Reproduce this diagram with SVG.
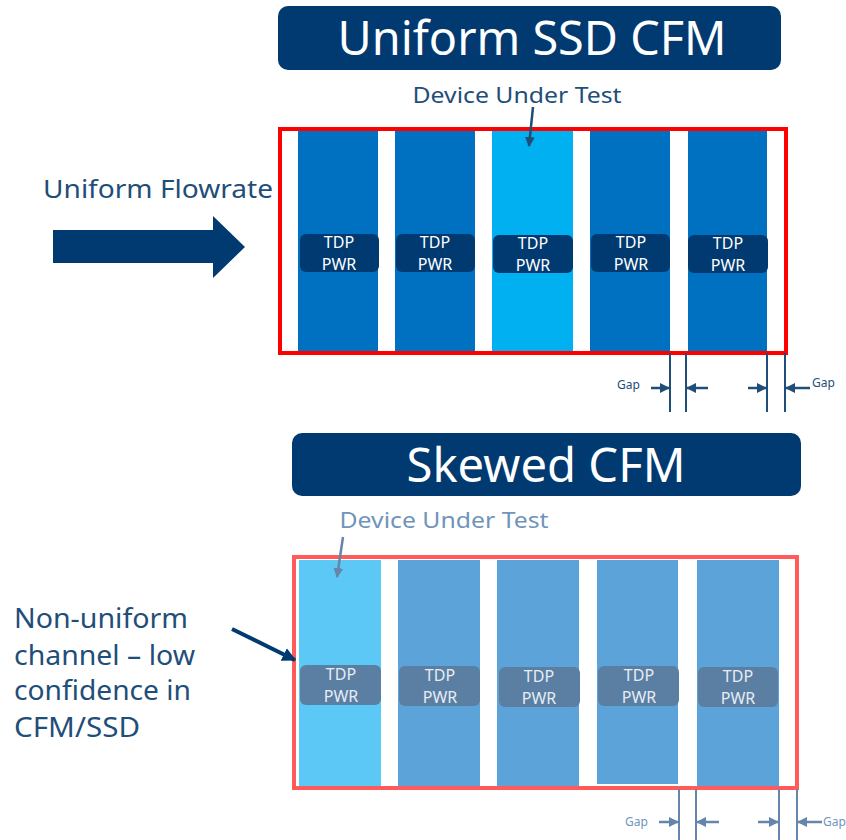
<svg xmlns="http://www.w3.org/2000/svg" width="846" height="840" viewBox="0 0 846 840">
<defs>
<style>
text{font-family:"Noto Sans","Open Sans","DejaVu Sans",sans-serif}
.title{fill:#fff;font-size:47px;text-anchor:middle}
.tbox{fill:#003A70}
.lbl{fill:#1F4E79}
.lbl2{fill:#7094BB}
.col1{fill:#0070C0}
.dut1{fill:#00B0F0}
.col2{fill:#5BA3D8}
.dut2{fill:#5BC8F5}
.tdp1{fill:#003A70}
.tdp2{fill:#5B7FA3}
.tdpt{fill:#fff;font-size:16px;text-anchor:middle}
.tdpt2{fill:#E6EDF5;font-size:16px;text-anchor:middle}
.gap1{stroke:#1F4E79;stroke-width:2;fill:none}
.gap2{stroke:#6585AA;stroke-width:2;fill:none}
.gapt{font-size:12px}
</style>
<marker id="ah1" viewBox="0 0 10 10" refX="9" refY="5" markerWidth="4" markerHeight="4" orient="auto"><path d="M0,0 L10,5 L0,10 z" fill="#1F4E79"/></marker>
<marker id="ah2" viewBox="0 0 10 10" refX="9" refY="5" markerWidth="4" markerHeight="4" orient="auto"><path d="M0,0 L10,5 L0,10 z" fill="#6585AA"/></marker>
<marker id="ah3" viewBox="0 0 10 10" refX="9" refY="5" markerWidth="3.5" markerHeight="3.5" orient="auto"><path d="M0,0 L10,5 L0,10 z" fill="#003A70"/></marker>
</defs>

<g id="title-uniform">
<rect class="tbox" x="278" y="6" width="503" height="64" rx="10"/>
<text class="title" x="532" y="55" textLength="389" lengthAdjust="spacingAndGlyphs">Uniform SSD CFM</text>
</g>
<g id="label-dut-top"><text class="lbl" x="517" y="103" font-size="22" text-anchor="middle" textLength="209" lengthAdjust="spacingAndGlyphs">Device Under Test</text></g>
<g id="label-flowrate"><text class="lbl" x="43" y="198" font-size="25" textLength="230" lengthAdjust="spacingAndGlyphs">Uniform Flowrate</text></g>
<g id="arrow-flow"><path d="M53,230 H213 V216 L245,247 L213,278 V263 H53 z" fill="#003A70"/></g>

<g id="box-uniform">
<rect x="280" y="129" width="506" height="224" fill="#fff" stroke="#FF0000" stroke-width="4"/>
</g>
<g id="ssd-u1"><rect class="col1" x="298" y="131" width="80" height="220"/><rect class="tdp1" x="300" y="234" width="79" height="38" rx="6"/><text class="tdpt" x="339" y="248">TDP</text><text class="tdpt" x="339" y="270">PWR</text></g>
<g id="ssd-u2"><rect class="col1" x="395" y="131" width="80" height="220"/><rect class="tdp1" x="396" y="234" width="79" height="38" rx="6"/><text class="tdpt" x="435" y="248">TDP</text><text class="tdpt" x="435" y="270">PWR</text></g>
<g id="ssd-u3"><rect class="dut1" x="492" y="131" width="81" height="220"/><rect class="tdp1" x="493" y="235" width="80" height="38" rx="6"/><text class="tdpt" x="533" y="249">TDP</text><text class="tdpt" x="533" y="271">PWR</text></g>
<g id="ssd-u4"><rect class="col1" x="590" y="131" width="80" height="220"/><rect class="tdp1" x="591" y="234" width="79" height="38" rx="6"/><text class="tdpt" x="631" y="248">TDP</text><text class="tdpt" x="631" y="270">PWR</text></g>
<g id="ssd-u5"><rect class="col1" x="688" y="131" width="79" height="220"/><rect class="tdp1" x="688" y="235" width="80" height="38" rx="6"/><text class="tdpt" x="728" y="249">TDP</text><text class="tdpt" x="728" y="271">PWR</text></g>

<g id="gap-top">
<text class="lbl gapt" x="617" y="389">Gap</text>
<text class="lbl gapt" x="812" y="387">Gap</text>
</g>

<g id="title-skewed">
<rect class="tbox" x="292" y="433" width="509" height="63" rx="10"/>
<text class="title" x="546" y="482" textLength="279" lengthAdjust="spacingAndGlyphs">Skewed CFM</text>
</g>
<g id="label-dut-bottom"><text class="lbl2" x="444" y="528" font-size="22" text-anchor="middle" textLength="209" lengthAdjust="spacingAndGlyphs">Device Under Test</text></g>
<g id="label-nonuniform">
<text class="lbl" x="14" y="628" font-size="27" textLength="174" lengthAdjust="spacingAndGlyphs">Non-uniform</text>
<text class="lbl" x="14" y="665" font-size="27" textLength="181" lengthAdjust="spacingAndGlyphs">channel – low</text>
<text class="lbl" x="14" y="700" font-size="27" textLength="177" lengthAdjust="spacingAndGlyphs">confidence in</text>
<text class="lbl" x="14" y="737" font-size="27" textLength="126" lengthAdjust="spacingAndGlyphs">CFM/SSD</text>
</g>

<g id="box-skewed">
<rect x="294" y="557" width="503" height="231" fill="#fff" stroke="#FF5B5B" stroke-width="4"/>
</g>
<g id="ssd-s1"><rect class="dut2" x="299" y="560" width="82" height="226"/><rect class="tdp2" x="300" y="665" width="81" height="40" rx="6"/><text class="tdpt2" x="341" y="680">TDP</text><text class="tdpt2" x="341" y="702">PWR</text></g>
<g id="ssd-s2"><rect class="col2" x="398" y="560" width="82" height="226"/><rect class="tdp2" x="399" y="666" width="81" height="40" rx="6"/><text class="tdpt2" x="440" y="681">TDP</text><text class="tdpt2" x="440" y="703">PWR</text></g>
<g id="ssd-s3"><rect class="col2" x="497" y="560" width="82" height="226"/><rect class="tdp2" x="499" y="667" width="81" height="40" rx="6"/><text class="tdpt2" x="539" y="682">TDP</text><text class="tdpt2" x="539" y="704">PWR</text></g>
<g id="ssd-s4"><rect class="col2" x="597" y="560" width="81" height="224"/><rect class="tdp2" x="598" y="666" width="81" height="40" rx="6"/><text class="tdpt2" x="639" y="681">TDP</text><text class="tdpt2" x="639" y="703">PWR</text></g>
<g id="ssd-s5"><rect class="col2" x="697" y="560" width="82" height="226"/><rect class="tdp2" x="698" y="667" width="80" height="40" rx="6"/><text class="tdpt2" x="738" y="682">TDP</text><text class="tdpt2" x="738" y="704">PWR</text></g>

<g id="gap-bottom">
<text class="lbl2 gapt" x="625" y="826" fill="#6585AA">Gap</text>
<text class="lbl2 gapt" x="823" y="826" fill="#6585AA">Gap</text>
</g>

<g id="connectors">
<line x1="533" y1="107" x2="529" y2="146" stroke="#1F4E79" stroke-width="2.5" marker-end="url(#ah1)"/>
<line x1="343" y1="537" x2="337" y2="577" stroke="#6585AA" stroke-width="2.5" marker-end="url(#ah2)"/>
<line x1="232" y1="629" x2="295" y2="660" stroke="#003A70" stroke-width="4" marker-end="url(#ah3)"/>
<line class="gap1" x1="670" y1="353" x2="670" y2="412"/>
<line class="gap1" x1="686" y1="353" x2="686" y2="412"/>
<line class="gap1" x1="767" y1="353" x2="767" y2="412"/>
<line class="gap1" x1="785" y1="353" x2="785" y2="412"/>
<line x1="651" y1="388" x2="669" y2="388" stroke="#1F4E79" stroke-width="2.5" marker-end="url(#ah1)"/>
<line x1="708" y1="388" x2="687" y2="388" stroke="#1F4E79" stroke-width="2.5" marker-end="url(#ah1)"/>
<line x1="748" y1="388" x2="766" y2="388" stroke="#1F4E79" stroke-width="2.5" marker-end="url(#ah1)"/>
<line x1="810" y1="388" x2="786" y2="388" stroke="#1F4E79" stroke-width="2.5" marker-end="url(#ah1)"/>
<line class="gap2" x1="679" y1="789" x2="679" y2="840"/>
<line class="gap2" x1="696" y1="789" x2="696" y2="840"/>
<line class="gap2" x1="779" y1="789" x2="779" y2="840"/>
<line class="gap2" x1="797" y1="789" x2="797" y2="840"/>
<line x1="659" y1="822" x2="678" y2="822" stroke="#6585AA" stroke-width="2.5" marker-end="url(#ah2)"/>
<line x1="719" y1="822" x2="697" y2="822" stroke="#6585AA" stroke-width="2.5" marker-end="url(#ah2)"/>
<line x1="758" y1="822" x2="778" y2="822" stroke="#6585AA" stroke-width="2.5" marker-end="url(#ah2)"/>
<line x1="822" y1="822" x2="798" y2="822" stroke="#6585AA" stroke-width="2.5" marker-end="url(#ah2)"/>
</g>
</svg>
